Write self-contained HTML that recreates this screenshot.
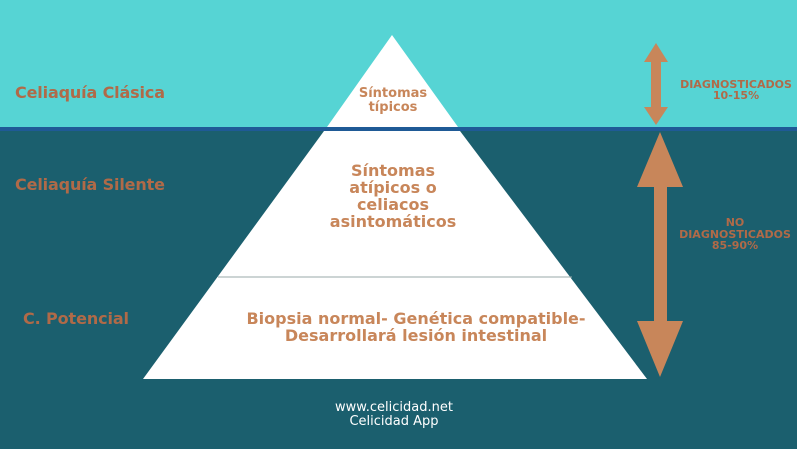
<!DOCTYPE html><html><head><style>
body{margin:0;width:797px;height:449px;overflow:hidden;font-family:"DejaVu Sans","Liberation Sans",sans-serif}
</style></head><body>
<svg width="797" height="449" xmlns="http://www.w3.org/2000/svg">
<rect width="797" height="449" fill="#1b5f6e"/>
<rect width="797" height="127" fill="#56d4d4"/>
<rect y="127" width="797" height="4" fill="#1f5a96"/>
<polygon points="392,35 327,127 458,127" fill="#fff"/>
<polygon points="324,131 460,131 647,379 143,379" fill="#fff"/>
<line x1="218" y1="277" x2="572" y2="277" stroke="#9aa" stroke-width="1"/>
<polygon points="656,43 668,62 661,62 661,107 668,107 656,125 644,107 651,107 651,62 644,62" fill="#c8865a"/>
<polygon points="660,132 683,187 667,187 667,321 683,321 660,377 637,321 654,321 654,187 637,187" fill="#c8865a"/>
<g font-weight="bold" fill="#b06a48" font-size="16" textLength="150">
<text x="15" y="98" textLength="150">Celiaquía Clásica</text>
<text x="15" y="190" textLength="150">Celiaquía Silente</text>
<text x="23" y="324" textLength="106">C. Potencial</text>
</g>
<g font-weight="bold" fill="#c8865a" text-anchor="middle">
<text x="393" y="97" font-size="13">Síntomas</text>
<text x="393" y="111" font-size="13">típicos</text>
<text x="393" y="176" font-size="16">Síntomas</text>
<text x="393" y="193" font-size="16">atípicos o</text>
<text x="393" y="210" font-size="16">celiacos</text>
<text x="393" y="227" font-size="16">asintomáticos</text>
<text x="416" y="324" font-size="16">Biopsia normal- Genética compatible-</text>
<text x="416" y="341" font-size="16">Desarrollará lesión intestinal</text>
</g>
<g font-weight="bold" fill="#b06a48" text-anchor="middle" font-size="11">
<text x="736" y="88">DIAGNOSTICADOS</text>
<text x="736" y="99">10-15%</text>
<text x="735" y="226">NO</text>
<text x="735" y="238">DIAGNOSTICADOS</text>
<text x="735" y="249">85-90%</text>
</g>
<g fill="#fff" text-anchor="middle" font-size="13">
<text x="394" y="411">www.celicidad.net</text>
<text x="394" y="425">Celicidad App</text>
</g>
</svg>
</body></html>
